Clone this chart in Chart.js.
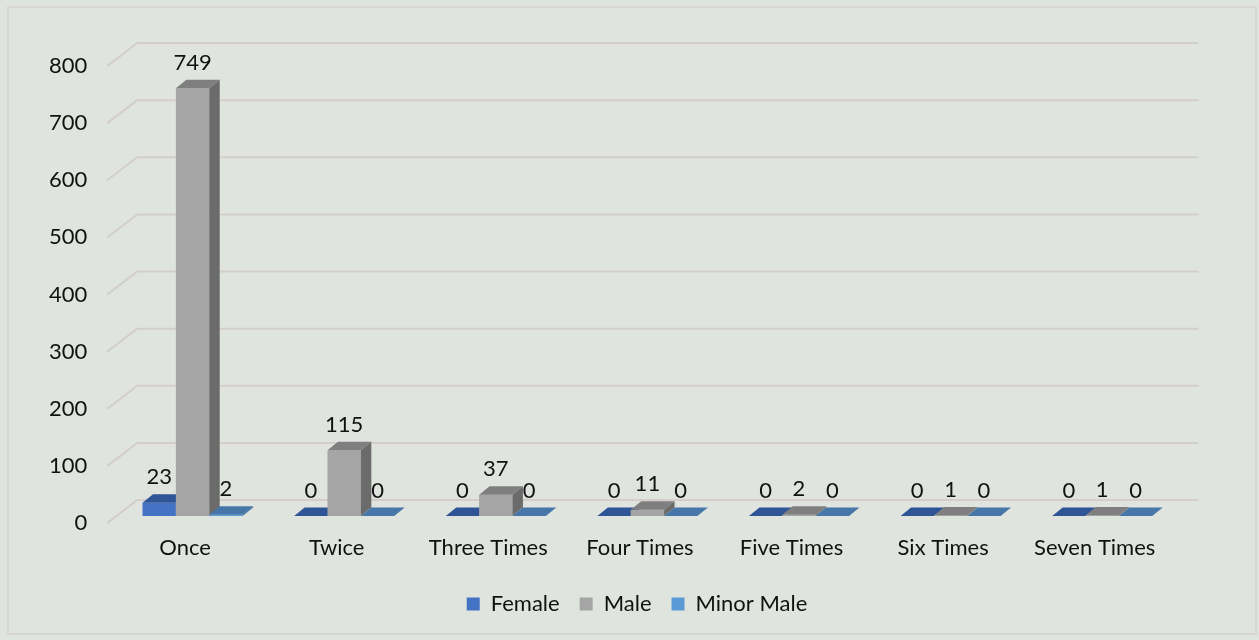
<!DOCTYPE html>
<html>
<head>
<meta charset="utf-8">
<script src="https://cdn.jsdelivr.net/npm/chart.js@4/dist/chart.umd.min.js"></script>
<style>
html, body { margin: 0; padding: 0; background: #dfe4de; }
#wrap { width: 1259px; height: 640px; }
</style>
</head>
<body>
<div id="wrap"><canvas id="chart" width="1259" height="640"></canvas></div>
<script>
const categories = ['Once', 'Twice', 'Three Times', 'Four Times', 'Five Times', 'Six Times', 'Seven Times'];
const female = [23, 0, 0, 0, 0, 0, 0];
const male = [749, 115, 37, 11, 2, 1, 1];
const minorMale = [2, 0, 0, 0, 0, 0, 0];
const yMax = 800;
const yStep = 100;

const FONT = 'Lato, "Noto Sans", sans-serif';

// bars stand a little behind the front edge of the floor
const SHIFT_X = 7.5, SHIFT_Y = -7;
// depth of each column
const DEPTH_X = 10.5, DEPTH_Y = -8.5;
// depth of floor / back wall
const WALL_X = 30, WALL_Y = -23;

const faces = [
    { front: '#4472c4', top: '#2f5597', side: '#2f528f' },
    { front: '#a5a5a5', top: '#7f7f7f', side: '#6b6b6b' },
    { front: '#5b9bd5', top: '#4677a8', side: '#3c6e9c' }
];

function drawColumn(ctx, bar, c) {
    bar.draw(ctx);
    const p = bar.getProps(['x', 'y', 'base', 'width'], true);
    const l = p.x - p.width / 2, r = p.x + p.width / 2;
    ctx.fillStyle = c.top;
    ctx.beginPath();
    ctx.moveTo(l, p.y);
    ctx.lineTo(r, p.y);
    ctx.lineTo(r + DEPTH_X, p.y + DEPTH_Y);
    ctx.lineTo(l + DEPTH_X, p.y + DEPTH_Y);
    ctx.closePath();
    ctx.fill();
    if (p.base - p.y > 0.5) {
        ctx.fillStyle = c.side;
        ctx.beginPath();
        ctx.moveTo(r, p.y);
        ctx.lineTo(r + DEPTH_X, p.y + DEPTH_Y);
        ctx.lineTo(r + DEPTH_X, p.base + DEPTH_Y);
        ctx.lineTo(r, p.base);
        ctx.closePath();
        ctx.fill();
    }
}

const box3d = {
    id: 'box3d',
    beforeDraw(chart) {
        const ctx = chart.ctx;
        ctx.save();
        ctx.strokeStyle = '#d5d1d1';
        ctx.lineWidth = 1.5;
        ctx.strokeRect(8, 7, 1248, 627);
        ctx.restore();
    },
    beforeDatasetsDraw(chart) {
        // gridlines run along the side wall and then the back wall
        const ctx = chart.ctx;
        const area = chart.chartArea;
        const y = chart.scales.y;
        ctx.save();
        ctx.strokeStyle = '#d3cdcd';
        ctx.lineWidth = 2;
        y.ticks.forEach(t => {
            const py = y.getPixelForValue(t.value);
            ctx.beginPath();
            ctx.moveTo(area.left - 2, py);
            ctx.lineTo(area.left - 2 + WALL_X, py + WALL_Y);
            ctx.lineTo(area.right + WALL_X - 2, py + WALL_Y);
            ctx.stroke();
        });
        ctx.restore();
    },
    // columns are painted below, left to right, so that each one hides
    // the side of its left neighbour
    beforeDatasetDraw() {
        return false;
    },
    afterDatasetsDraw(chart) {
        const ctx = chart.ctx;
        const metas = chart.data.datasets.map((ds, i) => chart.getDatasetMeta(i));
        ctx.save();
        ctx.translate(SHIFT_X, SHIFT_Y);
        categories.forEach((cat, j) => {
            metas.forEach((meta, i) => drawColumn(ctx, meta.data[j], faces[i]));
        });
        ctx.font = '22px ' + FONT;
        ctx.fillStyle = '#111';
        ctx.textAlign = 'center';
        ctx.textBaseline = 'middle';
        metas.forEach((meta, i) => {
            meta.data.forEach((bar, j) => {
                const p = bar.getProps(['x', 'y'], true);
                ctx.fillText(String(chart.data.datasets[i].data[j]), p.x, p.y + DEPTH_Y - 17);
            });
        });
        ctx.restore();
    }
};

new Chart(document.getElementById('chart'), {
    type: 'bar',
    data: {
        labels: categories,
        datasets: [
            { label: 'Female', data: female, backgroundColor: faces[0].front },
            { label: 'Male', data: male, backgroundColor: faces[1].front },
            { label: 'Minor Male', data: minorMale, backgroundColor: faces[2].front }
        ]
    },
    options: {
        responsive: false,
        animation: false,
        datasets: {
            bar: { borderWidth: 0, categoryPercentage: 0.66, barPercentage: 1.0, clip: false }
        },
        layout: { padding: { left: 15, right: 0, top: 66, bottom: 15 } },
        scales: {
            x: {
                grid: { display: false, drawTicks: false },
                border: { display: false },
                ticks: { font: { family: FONT, size: 22 }, color: '#111', padding: 12, maxRotation: 0 },
                afterFit(scale) { scale.height = 50; }
            },
            y: {
                min: 0, max: yMax,
                grid: { display: false, drawTicks: false },
                border: { display: false },
                ticks: { stepSize: yStep, font: { family: FONT, size: 22 }, color: '#111', padding: 22 },
                afterFit(scale) { scale.width = 94.25; }
            },
            // empty margin on the right, keeps the legend centred on the page
            side: {
                type: 'linear',
                position: 'right',
                grid: { display: false, drawTicks: false },
                border: { display: false },
                ticks: { display: false },
                afterFit(scale) { scale.width = 88.5; }
            }
        },
        plugins: {
            tooltip: { enabled: false },
            legend: {
                position: 'bottom',
                labels: {
                    boxWidth: 13, boxHeight: 13, padding: 20,
                    font: { family: FONT, size: 22 }, color: '#111'
                }
            }
        }
    },
    plugins: [box3d]
});
</script>
</body>
</html>
